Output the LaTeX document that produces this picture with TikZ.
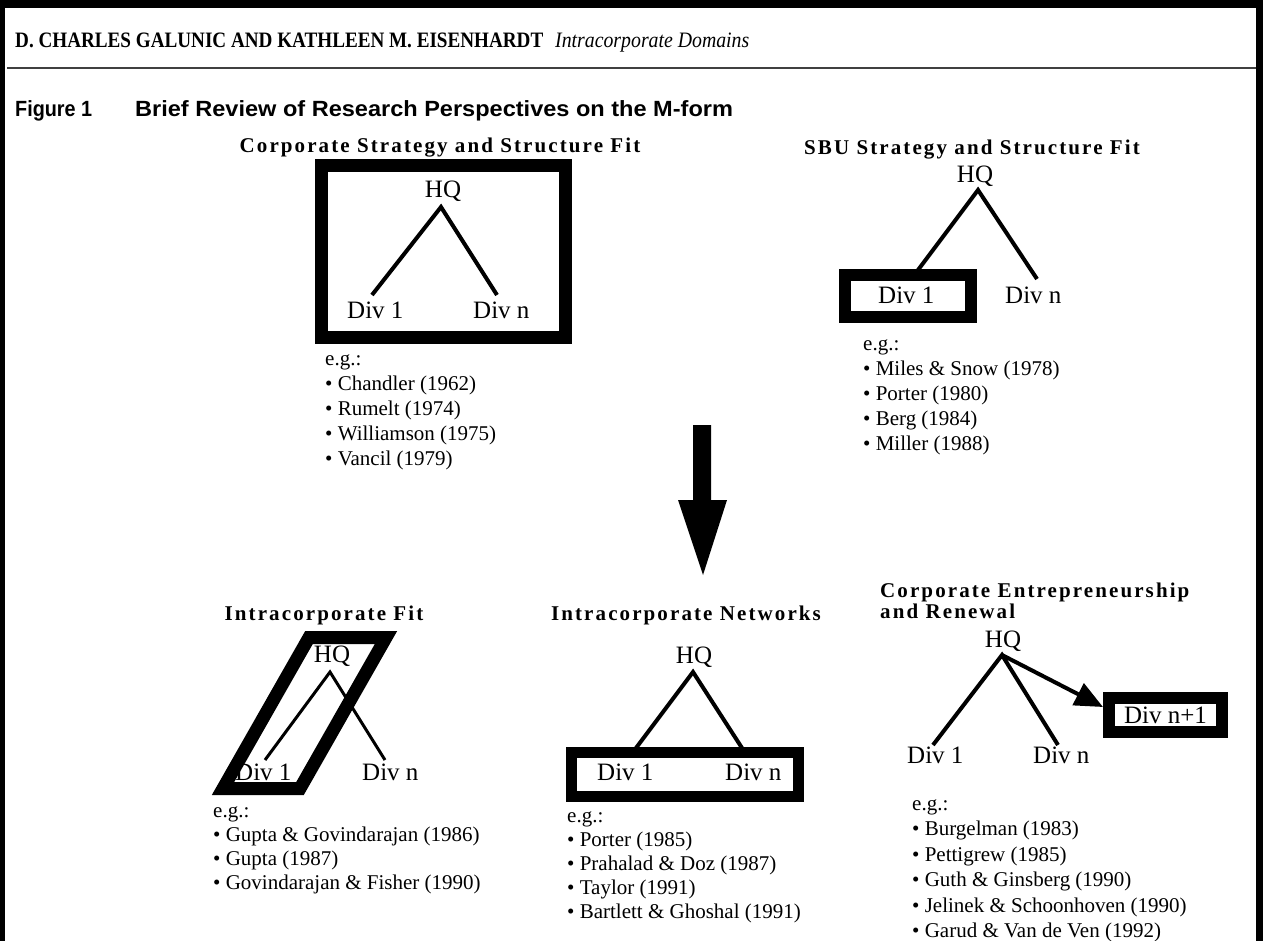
\documentclass[tikz,border=0pt]{standalone}
\usepackage{fontspec}
\usepackage{graphicx}
\setmainfont{Liberation Serif}
\setsansfont{Liberation Sans}
\usetikzlibrary{arrows.meta}
\newcommand{\fsz}[2]{\fontsize{#1}{#2}\selectfont}
\begin{document}
\begin{tikzpicture}[x=1pt,y=-1pt,
  lbl/.style={font=\fsz{25}{30}, inner sep=0},
  lst/.style={font=\fsz{21}{25}, inner sep=0, anchor=base west},
  ttl/.style={font=\fsz{21}{23}\bfseries\addfontfeatures{LetterSpace=10}, inner sep=0, anchor=base},
  tree/.style={line width=4pt},
  thickbox/.style={draw, line width=13pt, inner sep=0},
  frame/.style={fill=black}]
\useasboundingbox (0,0) rectangle (1263,941);
% page frame
\fill[frame] (0,0) rectangle (1263,8);
\fill[frame] (0,0) rectangle (5,941);
\fill[frame] (1256,0) rectangle (1263,941);
% header
\node[anchor=base west, inner sep=0, font=\fsz{22}{26}\bfseries] (hdr) at (15,48)
  {\scalebox{0.87}[1]{D. CHARLES GALUNIC AND KATHLEEN M. EISENHARDT}};
\node[anchor=base west, inner sep=0, font=\fsz{22}{26}\itshape] (hdr2) at (555,48)
  {\scalebox{0.9}[1]{Intracorporate Domains}};
\draw[black!75, line width=1.5pt] (7,68) -- (1256,68);
\node[anchor=base west, inner sep=0, font=\sffamily\bfseries\fsz{22}{26}] (fig) at (15,117) {\scalebox{0.9}[1]{Figure 1}};
\node[anchor=base west, inner sep=0, font=\sffamily\bfseries\fsz{22}{26}] (brief) at (135,117)
  {\scalebox{1.07}[1]{Brief Review of Research Perspectives on the M-form}};

% ---- Group 1: Corporate Strategy and Structure Fit
\node[thickbox, minimum width=244pt, minimum height=171pt] (box1) at (443,251.5) {};
\node[ttl] (t1) at (440,153) {Corporate Strategy and Structure Fit};
\node[lbl, anchor=base] (hq1) at (443,198) {HQ};
\node[lbl, anchor=base west] (d11) at (347,318) {Div 1};
\node[lbl, anchor=base west] (d1n) at (473,318) {Div n};
\coordinate (a1) at (441,207);
\coordinate (e11) at (372,295);
\coordinate (e1n) at (497,295);
\draw[tree] (e11) -- (a1) -- (e1n);
\node[lst] (eg1) at (325,365) {e.g.:};
\foreach \txt [count=\i] in {{Chandler (1962)},{Rumelt (1974)},{Williamson (1975)},{Vancil (1979)}}
  \node[lst] (l1-\i) at (325,{365+25*\i}) {\textbullet\ \txt};

% ---- Group 2: SBU Strategy and Structure Fit
\node[ttl] (t2) at (972,155) {SBU Strategy and Structure Fit};
\node[lbl, anchor=base] (hq2) at (975,183) {HQ};
\node[thickbox, line width=12pt, minimum width=126pt, minimum height=42pt] (box2) at (908,296) {};
\node[lbl, anchor=base west] (d21) at (878,303) {Div 1};
\node[lbl, anchor=base west] (d2n) at (1005,303) {Div n};
\coordinate (a2) at (978,190);
\coordinate (e21) at (918,270);
\coordinate (e2n) at (1037,279);
\draw[tree] (e21) -- (a2) -- (e2n);
\node[lst] (eg2) at (863,350) {e.g.:};
\foreach \txt [count=\i] in {{Miles \& Snow (1978)},{Porter (1980)},{Berg (1984)},{Miller (1988)}}
  \node[lst] (l2-\i) at (863,{350+25*\i}) {\textbullet\ \txt};

% ---- big arrow
\fill (693,425) -- (711,425) -- (711,500) -- (727,500) -- (703,575) -- (678,500) -- (693,500) -- cycle;

% ---- Group 3: Intracorporate Fit
\node[ttl] (t3) at (324,620) {Intracorporate Fit};
\draw[line width=13pt, line join=miter] (309,637.5) -- (386,637.5) -- (300,788.5) -- (223,788.5) -- cycle;
\node[lbl, anchor=base] (hq3) at (332,662) {HQ};
\node[lbl, anchor=base west] (d31) at (235,780) {Div 1};
\node[lbl, anchor=base west] (d3n) at (362,780) {Div n};
\coordinate (a3) at (330,672);
\coordinate (e31) at (265,760);
\coordinate (e3n) at (385,760);
\draw[line width=3pt] (e31) -- (a3) -- (e3n);
\node[lst] (eg3) at (213,817) {e.g.:};
\foreach \txt [count=\i] in {{Gupta \& Govindarajan (1986)},{Gupta (1987)},{Govindarajan \& Fisher (1990)}}
  \node[lst] (l3-\i) at (213,{817+24*\i}) {\textbullet\ \txt};

% ---- Group 4: Intracorporate Networks
\node[ttl] (t4) at (686,620) {Intracorporate Networks};
\node[lbl, anchor=base] (hq4) at (694,663) {HQ};
\node[thickbox, line width=11pt, minimum width=227pt, minimum height=44pt] (box4) at (684.5,774) {};
\node[lbl, anchor=base west] (d41) at (597,780) {Div 1};
\node[lbl, anchor=base west] (d4n) at (725,780) {Div n};
\coordinate (a4) at (693,672);
\coordinate (e41) at (636,748);
\coordinate (e4n) at (742,748);
\draw[tree] (e41) -- (a4) -- (e4n);
\node[lst] (eg4) at (567,822) {e.g.:};
\foreach \txt [count=\i] in {{Porter (1985)},{Prahalad \& Doz (1987)},{Taylor (1991)},{Bartlett \& Ghoshal (1991)}}
  \node[lst] (l4-\i) at (567,{822+24*\i}) {\textbullet\ \txt};

% ---- Group 5: Corporate Entrepreneurship and Renewal
\node[ttl, anchor=base west] (t5a) at (880,597) {Corporate Entrepreneurship};
\node[ttl, anchor=base west] (t5b) at (880,618) {and Renewal};
\node[lbl, anchor=base] (hq5) at (1003,647) {HQ};
\node[lbl, anchor=base west] (d51) at (907,763) {Div 1};
\node[lbl, anchor=base west] (d5n) at (1033,763) {Div n};
\node[thickbox, line width=12pt, minimum width=113pt, minimum height=34pt, font=\fsz{25}{30}] (box5) at (1165.5,715) {Div n+1};
\coordinate (a5) at (1002,655);
\coordinate (e51) at (933,745);
\coordinate (e5n) at (1058,745);
\draw[tree] (e51) -- (a5) -- (e5n);
\draw[line width=4pt, -{Triangle[length=28pt,width=24pt]}] (a5) -- ([yshift=8pt]box5.west);
\node[lst] (eg5) at (912,810) {e.g.:};
\foreach \txt [count=\i] in {{Burgelman (1983)},{Pettigrew (1985)},{Guth \& Ginsberg (1990)},{Jelinek \& Schoonhoven (1990)},{Garud \& Van de Ven (1992)}}
  \node[lst] (l5-\i) at (912,{810+25.5*\i}) {\textbullet\ \txt};
\end{tikzpicture}
\end{document}
